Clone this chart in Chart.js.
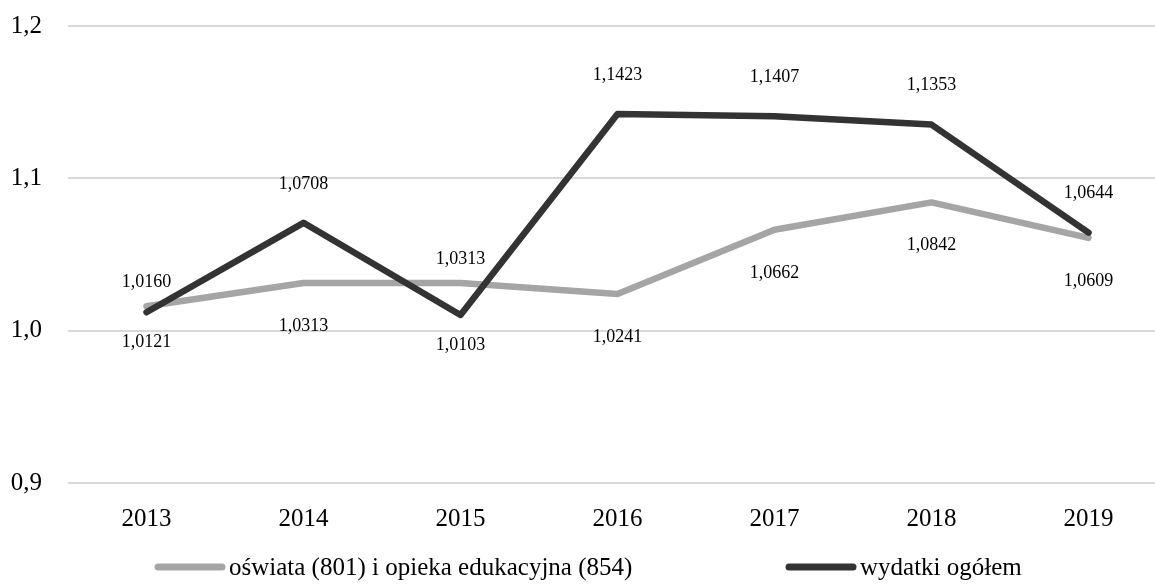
<!DOCTYPE html>
<html lang="pl">
<head>
<meta charset="utf-8">
<title>Dynamika wydatków 2013–2019</title>
<script src="https://cdn.jsdelivr.net/npm/chart.js@4.4.1/dist/chart.umd.min.js"></script>
<style>
  html, body { margin: 0; padding: 0; background: #fff; overflow: hidden; }
  #wrap { width: 1175px; height: 584px; }
</style>
</head>
<body>
<div id="wrap"><canvas id="chart" width="1175" height="584"></canvas></div>
<script>
// Lata
const years = ['2013', '2014', '2015', '2016', '2017', '2018', '2019'];

// Dynamika: oświata (801) i opieka edukacyjna (854)
const educationValues = [1.0160, 1.0313, 1.0313, 1.0241, 1.0662, 1.0842, 1.0609];
// Dynamika: wydatki ogółem
const totalValues = [1.0121, 1.0708, 1.0103, 1.1423, 1.1407, 1.1353, 1.0644];

// Podziałka osi Y
const yTicks = [0.9, 1.0, 1.1, 1.2];

const seriesNames = ['oświata (801) i opieka edukacyjna (854)', 'wydatki ogółem'];

// Strona etykiety wartości względem punktu (1 = nad, -1 = pod)
const educationLabelSide = [1, -1, 1, -1, -1, -1, -1];
const totalLabelSide = [-1, 1, -1, 1, 1, 1, 1];

const FONT = '"Liberation Serif", "Times New Roman", serif';
const GREY = '#a5a5a5';
const DARK = '#333333';

const fmt = v => v.toFixed(4).replace('.', ',');

// Etykiety wartości przy punktach
const valueLabels = {
  id: 'valueLabels',
  afterDatasetsDraw(chart) {
    const ctx = chart.ctx;
    ctx.save();
    ctx.font = '18px ' + FONT;
    ctx.fillStyle = '#000';
    ctx.textAlign = 'center';
    ctx.textBaseline = 'middle';
    chart.data.datasets.forEach((ds, di) => {
      const meta = chart.getDatasetMeta(di);
      meta.data.forEach((pt, i) => {
        const side = ds.labelSide[i];
        const off = side > 0 ? -ds.labelAbove : ds.labelBelow;
        ctx.fillText(fmt(ds.data[i]), pt.x, pt.y + off);
      });
    });
    ctx.restore();
  }
};

// Legenda pod wykresem
const lineLegend = {
  id: 'lineLegend',
  afterDraw(chart) {
    const ctx = chart.ctx;
    ctx.save();
    ctx.font = '25px ' + FONT;
    ctx.textBaseline = 'middle';
    ctx.textAlign = 'left';
    const sample = 70, gapText = 4;
    const items = [
      { text: seriesNames[0], color: GREY, x: 155 },
      { text: seriesNames[1], color: DARK, x: 786 }
    ];
    const y = 567;
    items.forEach(it => {
      ctx.strokeStyle = it.color;
      ctx.lineWidth = 7;
      ctx.lineCap = 'round';
      ctx.beginPath();
      ctx.moveTo(it.x + 3, y);
      ctx.lineTo(it.x + sample - 3, y);
      ctx.stroke();
      ctx.fillStyle = '#000';
      ctx.fillText(it.text, it.x + sample + gapText, y + 1);
    });
    ctx.restore();
  }
};

new Chart(document.getElementById('chart'), {
  type: 'line',
  data: {
    labels: years,
    datasets: [
      {
        label: seriesNames[0],
        data: educationValues,
        borderColor: GREY,
        backgroundColor: GREY,
        borderWidth: 6.5,
        pointRadius: 0,
        borderCapStyle: 'round',
        borderJoinStyle: 'round',
        tension: 0,
        order: 1,
        labelSide: educationLabelSide,
        labelAbove: 24,
        labelBelow: 43
      },
      {
        label: seriesNames[1],
        data: totalValues,
        borderColor: DARK,
        backgroundColor: DARK,
        borderWidth: 6.5,
        pointRadius: 0,
        borderCapStyle: 'round',
        borderJoinStyle: 'round',
        tension: 0,
        order: 0,
        labelSide: totalLabelSide,
        labelAbove: 39,
        labelBelow: 30
      }
    ]
  },
  options: {
    responsive: false,
    animation: false,
    events: [],
    layout: { padding: { left: 0, right: 8, top: 26, bottom: 46 } },
    plugins: {
      legend: { display: false },
      tooltip: { enabled: false },
      title: { display: false }
    },
    scales: {
      x: {
        offset: true,
        border: { display: false },
        grid: { display: false, drawTicks: false },
        ticks: {
          color: '#000',
          font: { family: FONT, size: 25 },
          padding: 21,
          maxRotation: 0
        },
        afterFit(s) { s.height = 55; s.paddingLeft = 0; s.paddingRight = 0; }
      },
      y: {
        min: 0.9,
        max: 1.2,
        border: { display: false },
        grid: { color: '#d9d9d9', lineWidth: 2, drawTicks: false },
        afterBuildTicks(s) { s.ticks = yTicks.map(v => ({ value: v })); },
        ticks: {
          color: '#000',
          font: { family: FONT, size: 25 },
          padding: 26,
          callback: v => v.toFixed(1).replace('.', ',')
        },
        afterFit(s) { s.width = 68; s.paddingTop = 0; s.paddingBottom = 0; }
      }
    }
  },
  plugins: [valueLabels, lineLegend]
});
</script>
</body>
</html>
